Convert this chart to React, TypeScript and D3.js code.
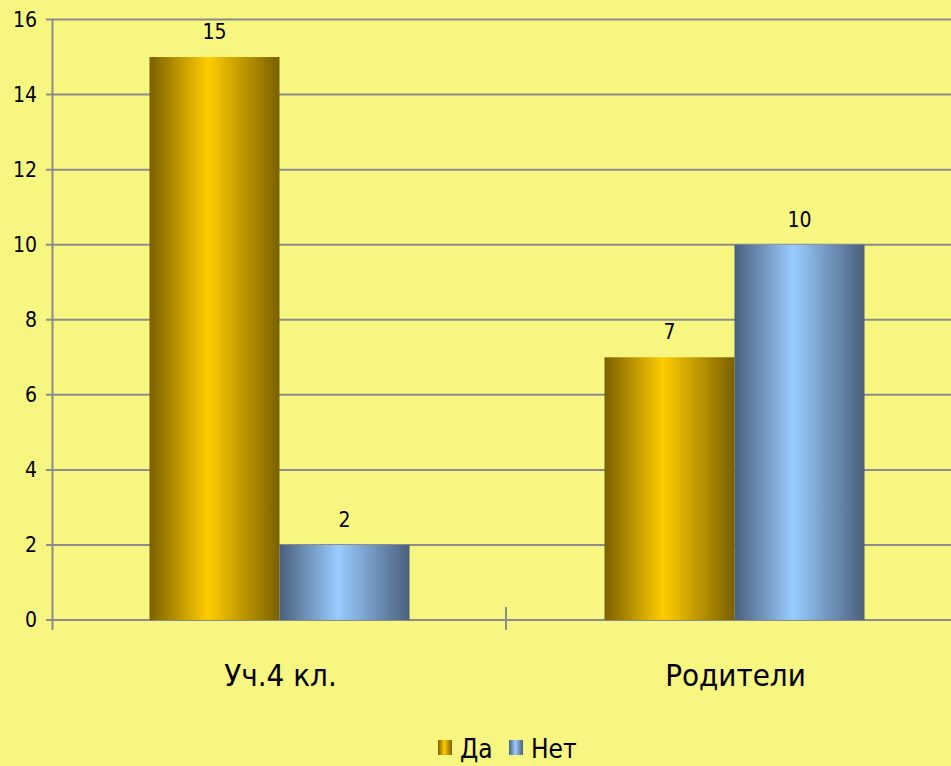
import React, { useEffect, useRef } from 'react';
import * as d3 from 'd3';

const categories = ['Уч.4 кл.', 'Родители'];
const seriesNames = ['Да', 'Нет'];
const daValues = [15, 7];
const netValues = [2, 10];
const yTicks = [0, 2, 4, 6, 8, 10, 12, 14, 16];

const FONT = '"DejaVu Sans Condensed", "DejaVu Sans", sans-serif';

export default function App() {
  const svgRef = useRef<SVGSVGElement>(null);

  useEffect(() => {
    if (!svgRef.current) return;
    const svg = d3.select(svgRef.current);
    svg.selectAll('*').remove();

    const width = 951;
    const height = 766;
    const left = 52;
    const bottom = 620;
    const top = 19.5;

    svg.attr('width', width).attr('height', height);
    svg.append('rect').attr('width', width).attr('height', height).attr('fill', '#f6f680');

    const defs = svg.append('defs');
    const grads = [
      { id: 'gDa', edge: '#7a6000', mid: '#ffcc00' },
      { id: 'gNet', edge: '#4a5f7c', mid: '#99ccff' },
    ];
    grads.forEach(g => {
      const lg = defs.append('linearGradient').attr('id', g.id).attr('x1', '0').attr('x2', '1').attr('y1', '0').attr('y2', '0');
      lg.append('stop').attr('offset', '0').attr('stop-color', g.edge);
      lg.append('stop').attr('offset', '0.45').attr('stop-color', g.mid);
      lg.append('stop').attr('offset', '1').attr('stop-color', g.edge);
    });

    const y = d3.scaleLinear().domain([0, 16]).range([bottom, top]);
    const x0 = d3.scaleBand<string>().domain(categories).range([left, 962]).padding(0);
    const x1 = d3.scaleBand<string>().domain(seriesNames).range([0, x0.bandwidth()]).paddingInner(0).paddingOuter(0.75);

    // gridlines and y ticks
    svg.append('g').selectAll('line').data(yTicks).enter().append('line')
      .attr('x1', left - 6).attr('x2', width)
      .attr('y1', d => y(d)).attr('y2', d => y(d))
      .attr('stroke', '#8c8c8c').attr('stroke-width', 2);

    svg.append('g').selectAll('text').data(yTicks).enter().append('text')
      .attr('x', 37).attr('y', d => y(d)).attr('dy', '0.35em')
      .attr('text-anchor', 'end').attr('font-family', FONT).attr('font-size', 21)
      .attr('fill', '#000').text(d => d);

    // axis line
    svg.append('line').attr('x1', left + 0.5).attr('x2', left + 0.5).attr('y1', top).attr('y2', bottom + 10)
      .attr('stroke', '#8c8c8c').attr('stroke-width', 2);

    // category separators
    svg.append('g').selectAll('line').data(categories.slice(1)).enter().append('line')
      .attr('x1', d => x0(d)! - 1).attr('x2', d => x0(d)! - 1)
      .attr('y1', bottom - 13).attr('y2', bottom + 10)
      .attr('stroke', '#8c8c8c').attr('stroke-width', 2);

    const rows = categories.map((c, i) => ({ cat: c, vals: [daValues[i], netValues[i]] }));
    const groups = svg.append('g').selectAll('g').data(rows).enter().append('g')
      .attr('transform', d => `translate(${x0(d.cat)},0)`);

    groups.selectAll('rect').data(d => d.vals.map((v, j) => ({ s: seriesNames[j], v, j }))).enter().append('rect')
      .attr('x', d => x1(d.s)!).attr('width', x1.bandwidth())
      .attr('y', d => y(d.v)).attr('height', d => bottom - y(d.v))
      .attr('fill', d => (d.j === 0 ? 'url(#gDa)' : 'url(#gNet)'));

    groups.selectAll('text').data(d => d.vals.map((v, j) => ({ s: seriesNames[j], v }))).enter().append('text')
      .attr('x', d => x1(d.s)! + x1.bandwidth() / 2).attr('y', d => y(d.v) - 18)
      .attr('text-anchor', 'middle').attr('font-family', FONT).attr('font-size', 21)
      .attr('fill', '#000').text(d => d.v);

    // category labels
    svg.append('g').selectAll('text').data(categories).enter().append('text')
      .attr('x', d => x0(d)! + x0.bandwidth() / 2 + 1).attr('y', 686)
      .attr('text-anchor', 'middle').attr('font-family', FONT).attr('font-size', 31)
      .attr('fill', '#000').text(d => d);

    // legend
    const legendItems = [
      { name: seriesNames[0], fill: 'url(#gDa)', sx: 438, tx: 460 },
      { name: seriesNames[1], fill: 'url(#gNet)', sx: 509, tx: 531 },
    ];
    const lg = svg.append('g');
    legendItems.forEach(it => {
      lg.append('rect').attr('x', it.sx).attr('y', 740).attr('width', 14).attr('height', 15).attr('fill', it.fill);
      lg.append('text').attr('x', it.tx).attr('y', 758)
        .attr('font-family', FONT).attr('font-size', 26).attr('fill', '#000').text(it.name);
    });
  }, []);

  return (
    <div style={{ position: 'absolute', left: 0, top: 0 }}>
      <svg ref={svgRef} style={{ display: 'block' }} />
    </div>
  );
}
